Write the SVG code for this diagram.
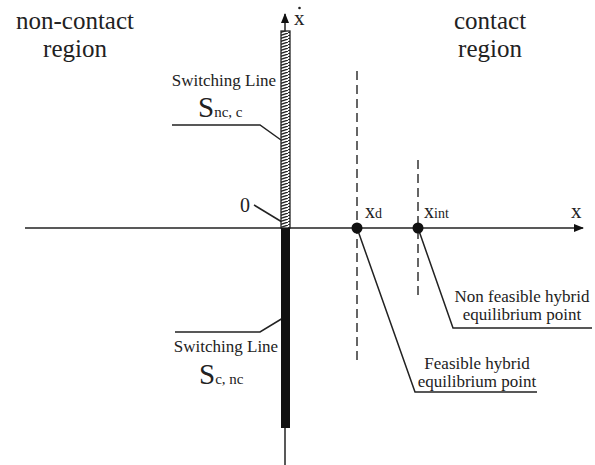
<svg xmlns="http://www.w3.org/2000/svg" width="595" height="465" viewBox="0 0 595 465">
<defs>
<style>
text{font-family:"Liberation Serif","Times New Roman",serif;fill:#222}
.big{font-size:25px}
.lbl{font-size:17px}
.ln{stroke:#222;stroke-width:1.5;fill:none}
.dash{stroke:#333;stroke-width:1.5;stroke-dasharray:9 5;fill:none}
</style>
<pattern id="hatch" width="9" height="3" patternUnits="userSpaceOnUse">
<rect width="9" height="3" fill="#fff"/>
<path d="M0,3 L9,0" stroke="#222" stroke-width="1.3"/>
</pattern>
<marker id="arr" markerWidth="10" markerHeight="8" refX="9" refY="4" orient="auto" markerUnits="userSpaceOnUse">
<path d="M0,0 L10,4 L0,8 z" fill="#111"/>
</marker>
</defs>
<g id="connectors">
<line class="ln" x1="25" y1="228" x2="583" y2="228" marker-end="url(#arr)"/>
<line class="ln" x1="285" y1="465" x2="285" y2="14" marker-end="url(#arr)"/>
<line class="dash" x1="357" y1="71" x2="357" y2="364"/>
<line class="dash" x1="418" y1="160" x2="418" y2="298"/>
<polyline class="ln" points="172,125 260,125 281,140"/>
<polyline class="ln" points="254,205 282,222"/>
<polyline class="ln" points="175,332 260,332 283,318"/>
<polyline class="ln" points="357,228 415,392 537,392"/>
<polyline class="ln" points="418,228 453,328 592,328"/>
</g>
<g id="switching-bars">
<rect x="281" y="31" width="9" height="197" fill="url(#hatch)" stroke="#222" stroke-width="1.3"/>
<rect x="281" y="228" width="9" height="200" fill="#111"/>
</g>
<g id="point-xd">
<circle cx="357" cy="228" r="5.5" fill="#111"/>
<text x="365" y="218" font-size="20">x<tspan font-size="14">d</tspan></text>
</g>
<g id="point-xint">
<circle cx="418" cy="228" r="5.5" fill="#111"/>
<text x="424" y="218" font-size="20">x<tspan font-size="14">int</tspan></text>
</g>
<g id="axis-labels">
<text x="571" y="218" font-size="21">x</text>
<text x="294" y="25" font-size="21">x</text>
<circle cx="299.5" cy="8" r="1.3" fill="#222"/>
<text x="240" y="212" font-size="20">0</text>
</g>
<g id="regions">
<text class="big" x="75" y="29" text-anchor="middle">non-contact</text>
<text class="big" x="75" y="57" text-anchor="middle">region</text>
<text class="big" x="490" y="29" text-anchor="middle">contact</text>
<text class="big" x="490" y="57" text-anchor="middle">region</text>
</g>
<g id="label-snc">
<text class="lbl" x="224" y="86" text-anchor="middle">Switching Line</text>
<text x="198" y="117" font-size="29">S<tspan font-size="15">nc, c</tspan></text>
</g>
<g id="label-scn">
<text class="lbl" x="226" y="352" text-anchor="middle">Switching Line</text>
<text x="199" y="384" font-size="29">S<tspan font-size="15">c, nc</tspan></text>
</g>
<g id="label-feasible">
<text class="lbl" x="477" y="369" text-anchor="middle">Feasible hybrid</text>
<text class="lbl" x="477" y="387" text-anchor="middle">equilibrium point</text>
</g>
<g id="label-nonfeasible">
<text class="lbl" x="522" y="302" text-anchor="middle">Non feasible hybrid</text>
<text class="lbl" x="522" y="320" text-anchor="middle">equilibrium point</text>
</g>
</svg>
